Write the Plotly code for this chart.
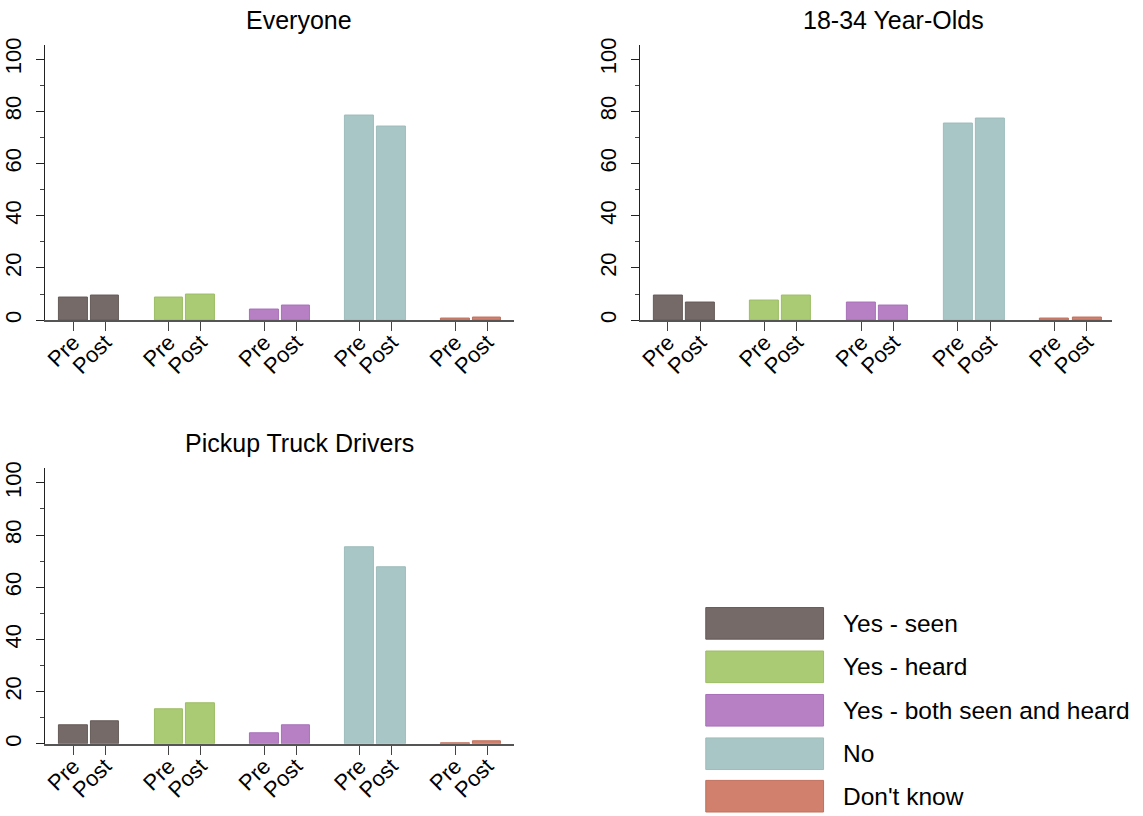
import plotly.graph_objects as go

# Response categories and survey waves
categories = ["Yes - seen", "Yes - heard", "Yes - both seen and heard", "No", "Don't know"]
periods = ["Pre", "Post"]

# Percent of respondents per category, before and after
everyone_pre = [8.5, 8.7, 3.9, 78.4, 0.5]
everyone_post = [9.3, 9.8, 5.4, 74.0, 0.8]
young_pre = [9.5, 7.6, 6.8, 75.3, 0.5]
young_post = [6.7, 9.5, 5.4, 77.1, 0.8]
pickup_pre = [7.1, 13.4, 3.9, 75.5, 0.4]
pickup_post = [8.6, 15.4, 7.1, 67.7, 1.1]

panel_titles = ["Everyone", "18-34 Year-Olds", "Pickup Truck Drivers"]
y_ticks = [0, 20, 40, 60, 80, 100]

colors = ["#756a68", "#aaca73", "#b780c4", "#a8c6c5", "#d0806c"]
edge_colors = ["#655a58", "#9cbd65", "#a870b8", "#9dbcbb", "#c0705c"]

W, H = 1143, 816
FONT = "Liberation Sans, Arial, Helvetica, sans-serif"

panels = [
    (everyone_pre, everyone_post),
    (young_pre, young_post),
    (pickup_pre, pickup_post),
]

# pixel boxes of each plot area: (left, right, top, bottom)
boxes = [
    (43, 513, 38, 317),
    (639, 1112, 38, 317),
    (43, 513, 467, 746),
]
x_ranges = [[-0.89, 13.85], [-0.87, 13.78], [-0.89, 13.85]]

fig = go.Figure()

tickvals = []
ticktext = []
for i in range(len(categories)):
    for j, p in enumerate(periods):
        tickvals.append(3 * i + j)
        ticktext.append(p)

for k, (pre, post) in enumerate(panels):
    suffix = "" if k == 0 else str(k + 1)
    for i, cat in enumerate(categories):
        fig.add_trace(go.Bar(
            x=[3 * i, 3 * i + 1],
            y=[pre[i], post[i]],
            width=0.9,
            name=cat,
            showlegend=False,
            marker=dict(color=colors[i], line=dict(color=edge_colors[i], width=1)),
            xaxis="x" + suffix,
            yaxis="y" + suffix,
        ))

    left, right, top, bottom = boxes[k]
    xdom = [left / W, right / W]
    ydom = [1 - bottom / H, 1 - top / H]
    fig.layout["xaxis" + suffix] = dict(
        domain=xdom, range=x_ranges[k], anchor="y" + suffix,
        tickmode="array", tickvals=tickvals, ticktext=ticktext,
        tickangle=-45, ticks="outside", ticklen=9, tickwidth=1.3,
        tickcolor="#444444", showline=True, linecolor="#555555", linewidth=1.5,
        showgrid=False, zeroline=False, ticklabelstandoff=-10,
        tickfont=dict(family=FONT, size=22, color="black"),
    )
    fig.layout["yaxis" + suffix] = dict(
        domain=ydom, range=[0, 105.6], anchor="x" + suffix,
        tickmode="array", tickvals=y_ticks, tickangle=-90,
        ticks="outside", ticklen=8, tickwidth=1.3, tickcolor="#222222",
        minor=dict(dtick=10, tick0=0, ticks="outside", ticklen=4, tickwidth=1,
                   tickcolor="#444444"),
        showline=True, linecolor="#222222", linewidth=1.3,
        showgrid=False, zeroline=False, ticklabelstandoff=6,
        tickfont=dict(family=FONT, size=22, color="black"),
    )

# Panel titles
title_pos = [(298, 13), (893, 13), (298, 441)]
for (tx, ty), t in zip(title_pos, panel_titles):
    fig.add_annotation(
        x=tx / W, y=1 - ty / H, xref="paper", yref="paper",
        text=t, showarrow=False, xanchor="center", yanchor="middle",
        font=dict(family=FONT, size=25, color="black"),
    )

# Legend drawn as swatches with labels
leg_left, leg_right, leg_h = 705, 823, 32
leg_tops = [608, 652, 696, 740, 783]
for i, cat in enumerate(categories):
    t = leg_tops[i]
    fig.add_shape(
        type="rect", xref="paper", yref="paper",
        x0=leg_left / W, x1=leg_right / W,
        y0=1 - (t + leg_h) / H, y1=1 - t / H,
        fillcolor=colors[i], line=dict(color=edge_colors[i], width=1),
    )
    fig.add_annotation(
        x=840 / W, y=1 - (t + leg_h / 2) / H, xref="paper", yref="paper",
        text=cat, showarrow=False, xanchor="left", yanchor="middle",
        font=dict(family=FONT, size=24.5, color="black"),
    )

fig.update_layout(
    width=W, height=H,
    margin=dict(l=0, r=0, t=0, b=0),
    paper_bgcolor="white", plot_bgcolor="white",
    barmode="overlay", bargap=0,
    showlegend=False,
)

fig.write_html("out.html")
